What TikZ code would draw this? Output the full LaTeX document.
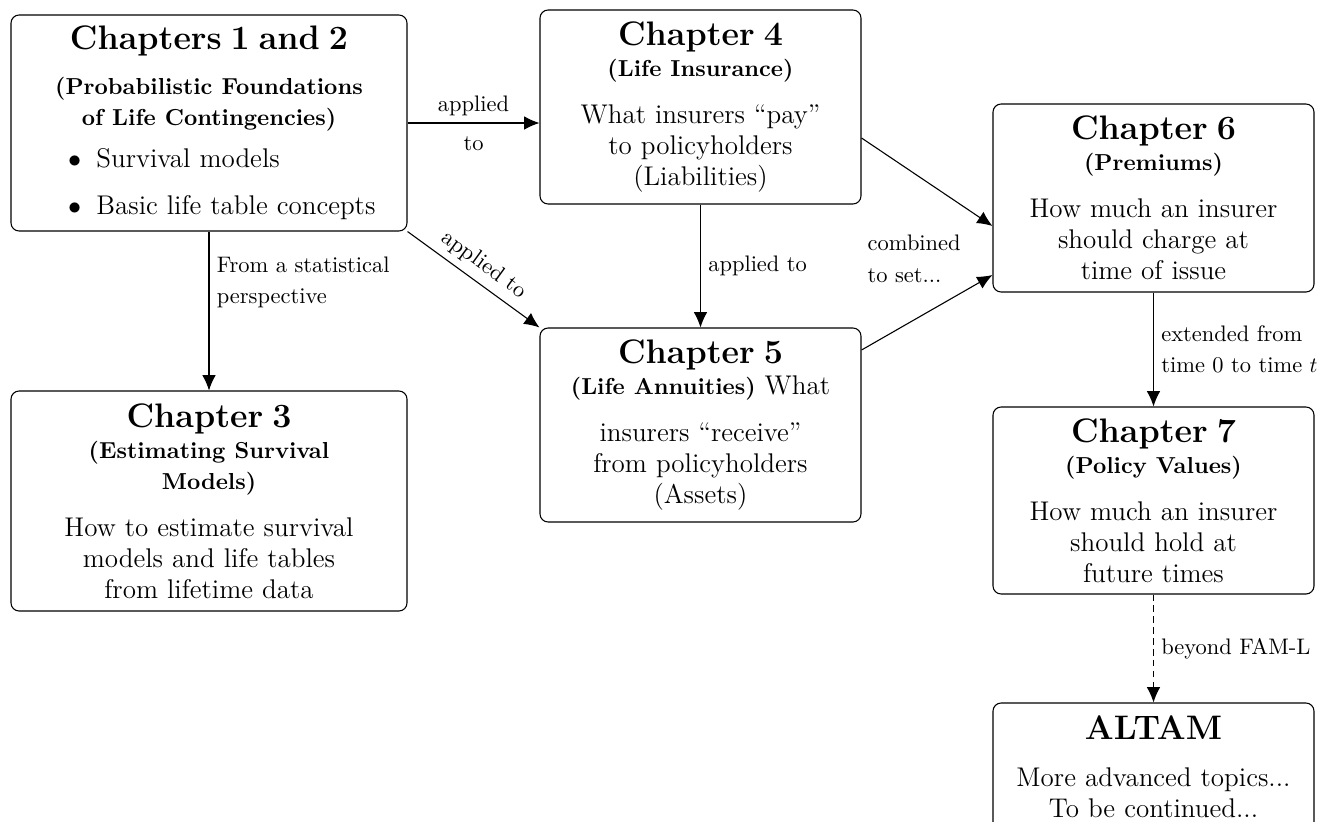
\documentclass[tikz,border=0pt]{standalone}
\usetikzlibrary{arrows.meta,calc}
\newlength\U
\setlength\U{0.4587pt}
\newcommand\bodyfont{\fontsize{12.4}{14.2}\selectfont}
\newcommand\titlefont{\fontsize{15.6}{16}\selectfont\bfseries}
\newcommand\subfont{\fontsize{10.6}{14}\selectfont\bfseries}
\newcommand\lblfont{\fontsize{10.3}{14.5}\selectfont}
\tikzset{
  box/.style={draw, rounded corners=3.7pt, align=center, inner sep=0pt,
    font=\bodyfont, line width=0.5pt},
  arr/.style={-{Latex[length=7pt,width=6.2pt]}, line width=0.5pt},
  lbl/.style={font=\lblfont},
}
\begin{document}
\begin{tikzpicture}[x=0.4587pt, y=-0.4587pt]
\useasboundingbox (0,0) rectangle (1326,822);

\node[box, minimum width=396*\U, minimum height=216*\U, text width=380*\U] (ch12) at (209,123)
 {{\titlefont Chapters 1 and 2}\\[6.5pt]
  {\subfont (Probabilistic Foundations}\\
  {\subfont of Life Contingencies)}\\[5pt]
  \makebox[282\U][l]{$\bullet$\hspace{7pt}Survival models}\\[7.5pt]
  \makebox[282\U][l]{$\bullet$\hspace{7pt}Basic life table concepts}};

\node[box, minimum width=396*\U, minimum height=220*\U, text width=380*\U] (ch3) at (209,501)
 {{\titlefont Chapter 3}\\
  {\subfont (Estimating Survival}\\
  {\subfont Models)}\\[7.5pt]
  How to estimate survival\\
  models and life tables\\
  from lifetime data};

\node[box, minimum width=321*\U, minimum height=194*\U, text width=305*\U] (ch4) at (700.5,107)
 {{\titlefont Chapter 4}\\
  {\subfont (Life Insurance)}\\[7.5pt]
  What insurers “pay”\\
  to policyholders\\
  (Liabilities)};

\node[box, minimum width=321*\U, minimum height=194*\U, text width=305*\U] (ch5) at (700.5,425)
 {{\titlefont Chapter 5}\\
  {\subfont (Life Annuities)} What\\[7.5pt]
  insurers “receive”\\
  from policyholders\\
  (Assets)};

\node[box, minimum width=321*\U, minimum height=188*\U, text width=305*\U] (ch6) at (1153.5,198)
 {{\titlefont Chapter 6}\\
  {\subfont (Premiums)}\\[7.5pt]
  How much an insurer\\
  should charge at\\
  time of issue};

\node[box, minimum width=321*\U, minimum height=187*\U, text width=305*\U] (ch7) at (1153.5,500.5)
 {{\titlefont Chapter 7}\\
  {\subfont (Policy Values)}\\[7.5pt]
  How much an insurer\\
  should hold at\\
  future times};

\node[box, minimum width=321*\U, minimum height=127*\U, text width=305*\U] (altam) at (1153.5,766.5)
 {{\titlefont ALTAM}\\[7.5pt]
  More advanced topics...\\
  To be continued...};

% connectors
\draw[arr] (ch12.east) -- (ch12.east -| ch4.west)
  node[midway, lbl, align=center] (l1) {applied\\[3.5pt]to};
\draw[arr] (ch12.south east) -- (ch5.north west)
  node[midway, sloped, above, lbl] (l2) {applied to};
\draw[arr] (ch12) -- (ch3)
  node[pos=0.32, right, lbl, align=left] (l3) {From a statistical\\perspective};
\draw[arr] (ch4) -- (ch5)
  node[midway, right, lbl] (l4) {applied to};
\draw[arr] ($(ch4.east)+(0,31)$) -- ($(ch6.west)+(0,28)$);
\draw[arr] ($(ch5.east)+(0,-75)$) -- ($(ch6.west)+(0,77)$);
\node[lbl, align=left, anchor=west] (comb) at (860,259) {combined\\to set...};
\draw[arr] (ch6) -- (ch7)
  node[midway, right, lbl, align=left] (l5) {extended from\\time 0 to time $t$};
\draw[arr, dash pattern=on 3pt off 2pt] (ch7) -- (altam)
  node[midway, right, lbl] (l6) {beyond FAM-L};
\end{tikzpicture}
\end{document}
